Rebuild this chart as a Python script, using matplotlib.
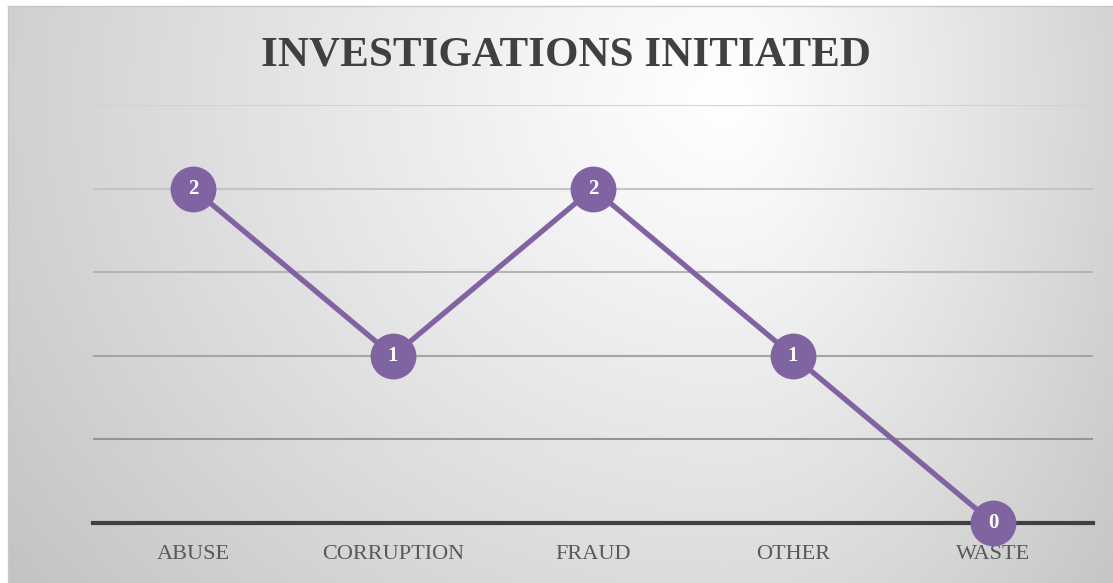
import matplotlib
matplotlib.use("Agg")
import matplotlib.pyplot as plt
import numpy as np

categories = ["ABUSE", "CORRUPTION", "FRAUD", "OTHER", "WASTE"]
counts = [2, 1, 2, 1, 0]
grid_levels = [0.5, 1.0, 1.5, 2.0, 2.5]

W, H = 1113, 583
fig = plt.figure(figsize=(W / 100, H / 100), dpi=100)
fig.patch.set_facecolor("white")

# soft radial gradient panel behind the chart
bg = fig.add_axes([8 / W, 0, (W - 8) / W, (H - 6) / H])
yy, xx = np.mgrid[0:577, 0:1105]
cx, cy = 720, 90
rx = np.where(xx < cx, 750.0, 430.0)
d = np.sqrt(((xx - cx) / rx) ** 2 + ((yy - cy) / 650) ** 2)
d = np.clip(d, 0, 1.2) ** 1.1
shade = 1.0 - d * 0.19
bg.imshow(np.dstack([shade, shade, shade]), aspect="auto", vmin=0, vmax=1)
bg.set_xticks([])
bg.set_yticks([])
for s in bg.spines.values():
    s.set_color("#c8c8c8")
    s.set_linewidth(1)
bg.spines["right"].set_visible(False)
bg.spines["bottom"].set_visible(False)

ax = fig.add_axes([93 / W, 1 - 523 / H, 1000 / W, (523 - 105) / H])
ax.patch.set_alpha(0)
x = np.arange(len(categories))
ax.set_xlim(-0.5, len(categories) - 0.5)
ax.set_ylim(0, 2.5)

grid_colors = ["#959595", "#a5a5a5", "#b5b5b5", "#c4c4c4", "#d2d2d2"]
for lvl, c in zip(grid_levels, grid_colors):
    ax.axhline(lvl, color=c, lw=1.5, zorder=1)
ax.axhline(0, color="#404040", lw=3, zorder=2, clip_on=False)

ax.plot(x, counts, color="#8064A2", lw=3.8, marker="o", markersize=33,
        markeredgewidth=0, zorder=3, clip_on=False)
for xi, v in zip(x, counts):
    ax.text(xi, v, str(v), ha="center", va="center", color="white",
            fontsize=15, fontweight="bold", family="Liberation Serif", zorder=4)

ax.set_xticks(x)
ax.set_xticklabels(categories, family="Liberation Serif", fontsize=16, color="#595959")
ax.tick_params(axis="x", length=0, pad=16)
ax.set_yticks([])
for s in ax.spines.values():
    s.set_visible(False)

fig.text(566 / W, 1 - 56 / H, "INVESTIGATIONS INITIATED", ha="center", va="center",
         family="Liberation Serif", fontweight="bold", fontsize=31, color="#404040")

fig.savefig("out.png", dpi=100)
